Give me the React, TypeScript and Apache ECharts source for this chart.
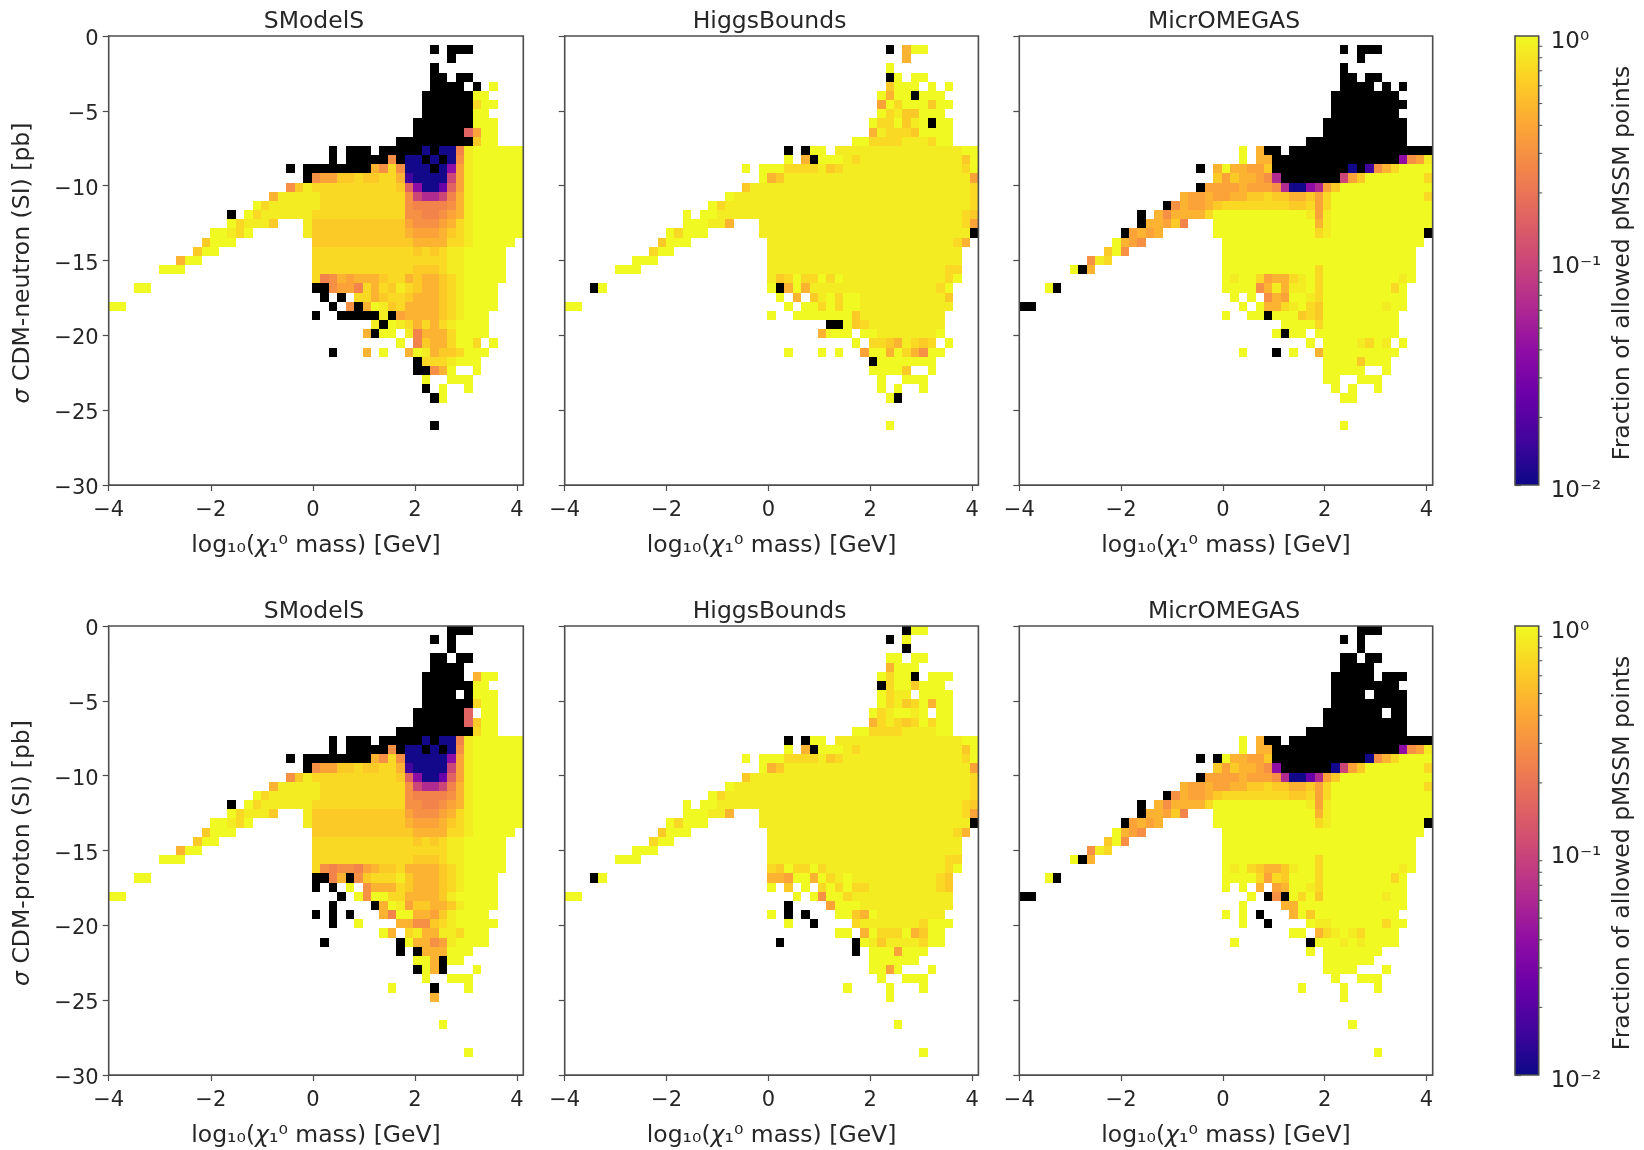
import React, { useEffect, useRef } from "react";
import * as echarts from "echarts";

// Code letters used in the rows below -> fraction of allowed points (0 = black cell).
const LEVELS: Record<string, number> = {
  k: 1, j: 0.871, i: 0.708, h: 0.6, g: 0.46, f: 0.38, e: 0.295, d: 0.251,
  c: 0.158, b: 0.1, a: 0.063, z: 0.04, y: 0.025, x: 0.016, w: 0.0105, "#": 0,
};
const BIN_COUNT = 49;
const X_MIN = -4;
const X_MAX = 4.1224;
const Y_MIN = -30;
const Y_MAX = 0;
const X_TICKS = [-4, -2, 0, 2, 4];
const MINOR_TICKS = [0.02, 0.03, 0.04, 0.05, 0.06, 0.07, 0.08, 0.09, 0.2, 0.3, 0.4, 0.5, 0.6, 0.7, 0.8, 0.9];
const PANEL_TITLES = ["SModelS", "HiggsBounds", "MicrOMEGAS"];
const Y_TITLES = ["CDM-neutron (SI) [pb]", "CDM-proton (SI) [pb]"];
const X_TITLE = "log₁₀({i|χ}₁⁰ mass) [GeV]";
const CB_TITLE = "Fraction of allowed pMSSM points";
const PLASMA = ["#0d0887", "#41049d", "#6a00a8", "#8f0da4", "#b12a90", "#cc4778", "#e16462", "#f2844b", "#fca636", "#fcce25", "#f0f921"];

// Rows run top (y = 0) to bottom. "s:abc" puts codes from column s; "a-b:c" fills columns a..b.
const SMODELS_ROWS_12_13 = [
  "26:# 28:### 32-36:# 37:w 38:# 39:ww 41:d 42:j 43-48:k",
  "26:# 28-32:# 33:e 34:# 35:ww 37:# 38:w 39:# 40:w 41:e 42:j 43-48:k",
];
const SMODELS_ROWS_15_25 = [
  "23:# 24:eff 27:hhihhii 34:g 35:x 36-39:w 40:b 41:f 42:j 43-48:k",
  "21:eh 23:j 24-33:i 34:h 35:cz 37:ww 39:y 40:c 41:f 42:j 43-48:k",
  "19:g 20-24:j 25-34:i 35:eb 37:aa 39:b 40:d 41:g 42:j 43-48:k",
  "17:ki 19-24:j 25-34:i 35:e 36-39:d 40:e 41:g 42:j 43-48:k",
  "14:# 16:ki 18-23:j 24-34:i 35:e 36:e 37:d 38:d 39:e 40:f 41:g 42:j 43-48:k",
  "14:kijjjh 23:j 24-34:h 35:f 36-38:e 39:f 40:g 41:i 42:j 43-48:k",
  "12:kkjik 23:j 24-34:h 35:g 36-38:f 39:g 40:h 41:i 42:j 43-48:k",
  "11:hkkk 24-34:h 35:hgggg 40:ii 42:j 43-47:k",
  "10:hkk 24-34:i 35:ihihi 40:jj 42-46:k",
  "8:gkk 24-39:i 40:jj 42-46:k",
  "6:kkk 24-35:i 36-38:h 39:i 40:jj 42-46:k",
];
const SMODELS_NEUTRON = [
  "",
  "38:# 40:###",
  "40:#",
  "38:#",
  "38:## 41:##",
  "38:#### 43:# 45:k",
  "37-42:# 43:kk",
  "37-42:# 43:ikk",
  "37-42:# 43:kk",
  "36-42:# 43:kkk",
  "36-41:# 42:cf 44:kk",
  "34-42:# 43:hkk",
  ...SMODELS_ROWS_12_13,
  "21:# 23-30:# 31:ge 33:i 34:e 35:www 38:# 39:w 40:z 41:f 42:j 43-48:k",
  ...SMODELS_ROWS_15_25,
  "24:idegfgggh 33:ii 35:ghgghij 42-46:k",
  "3:kk 24:## 26:effd 30:igihji 36:hgghij 42-45:k",
  "25:# 27:# 29:iig 32:hii 35:hggghij 42-45:k",
  "0:kk 26:# 28:e 29:# 30:g 31:kj 33:hi 35:gggghij 42-45:k",
  "24:# 27-31:# 32:j 33:# 34:f 35:ggggh 40:ij 42-44:k",
  "31:j 32:# 33:kj 35:igigi 40:j 41-44:k",
  "30:g 31:# 32:kk 35:jdggg 40:i 41-44:k",
  "34:k 36:dhgg 40:i 41:kk 43:i 45:k",
  "26:# 30:g 32:k 35:g 36:kj 38:ghhi 42-44:k",
  "36:# 37:iiijkkk",
  "36:## 38:eg 40:k 43:k",
  "37:k 40:kkk",
  "37:# 39:k 42:k",
  "38:# 39:k",
  "",
  "",
  "38:#",
];
const SMODELS_PROTON = [
  "40:###",
  "38:# 40:#",
  "40:#",
  "38:## 41:##",
  "38-41:#",
  "37-41:# 43:gkk",
  "37-42:# 43:kk",
  "37-40:# 42:# 43:kkk",
  "37-42:# 43:ikk",
  "36-41:# 42:c 44:kk",
  "36-41:# 42:c 43:hkk",
  "34-42:# 43:ikk",
  ...SMODELS_ROWS_12_13,
  "21:# 23-30:# 31:ge 33:i 34:e 35-39:w 40:z 41:f 42:j 43-48:k",
  ...SMODELS_ROWS_15_25,
  "24:iedeedfghhi 35:gggghij 42-46:k",
  "3:kk 24:## 26:dg 28:# 29:ehiiij 35:hggghij 42-45:k",
  "24:# 26:# 28:k 30:eggg 34:i 35:hggghij 42-45:k",
  "0:kk 27:# 29:k 30:e 31:kk 33:ii 35:ggggh 40:jk 42-45:k",
  "26:# 31:# 32:gkj 35:f 36:hhgg 40:hj 42-45:k",
  "24:# 26:# 28:# 32:gdkk 36:ggf 39:hj 41-44:k",
  "26:# 29:k 34:gg 36:ee 38:hi 40:j 41-45:k",
  "32:kg 35:ijggjji 42-44:k",
  "25:# 34:# 35:kggef 40:j 41-44:k",
  "34:# 36:# 37:ggg 40-42:k",
  "36:kk 38:g 39:# 40:kk",
  "36:# 37:kg 39:# 43:k",
  "37:k 40:kkk",
  "33:k 38:# 42:k",
  "38:g",
  "",
  "",
  "39:k",
  "",
  "",
  "42:k",
];
const HIGGS_ROWS_12_25 = [
  "26:# 28:# 29:kk 32-46:j 47:kk",
  "26:k 28:g 29:# 30:kkk 33:ji 35-46:j 47:hk",
  "21:k 23:kkk 26:iiii 30:j 31:hi 33-46:j 47:ik",
  "23:kgh 26-47:j 48:f",
  "21:h 22-47:j 48:i",
  "19:k 20-47:j 48:i",
  "17:ki 19-47:j 48:i",
  "14:k 16:kk 18-46:j 47:i 48:h",
  "14:kkkjj 19:g 23-46:j 47:i 48:f",
  "12:kikkk 23-47:j 48:#",
  "11:hkkk 24-45:j 46:i 47:g",
  "10:ikk 24-46:j",
  "8:kkk 24-46:j",
  "6:kkk 24-44:j 45:ii",
];
const HIGGS_NEUTRON = [
  "",
  "38:# 40:gkk",
  "40:g",
  "38:k",
  "38:# 39:k 41:kk",
  "38:h 39:kkk 43:k 45:k",
  "37:kg 39:kk 41:# 42:kkk",
  "37:f 38:k 39:i 40:kkk 43:h 44:kk",
  "37:kijhhkkk",
  "36:kiikhjk 43:# 44:kk",
  "36:gjiiihkkkk",
  "34:kkiiiijjjikk",
  ...HIGGS_ROWS_12_25,
  "24:jhikiikik 33-44:j 45:ik",
  "3:#k 24:k 25:# 26:gkg 29-43:j 44:ik",
  "25:k 27:g 29:hjkikk 35-44:j 45:h",
  "0:kk 26:k 28:kk 30:ikikk 35-45:j",
  "24:k 27-33:k 34:h 35-44:j",
  "31:## 33:kh 35:i 36-44:j",
  "30:g 31:kkk 35:kk 37-43:j 44:k",
  "34:k 36:iihgjihi 45:k",
  "26:k 30:k 32:k 35:f 36:kk 38:gkige 43:kk",
  "36:# 37-43:k",
  "36-39:k 40:h 43:k",
  "37:k 40:kkk",
  "37:k 39:k 42:k",
  "38:k 39:#",
  "",
  "",
  "38:k",
];
const HIGGS_PROTON = [
  "40:# 41:kk",
  "38:# 40:k",
  "40:#",
  "38:kk 41:kk",
  "38:g 39-41:k",
  "37:ki 39:kk 41:# 43:kkk",
  "37:# 38:ikk 41:h 42:kkk",
  "37:kijj 42:kkkk",
  "37:kijhik 43:gkk",
  "36:kijkkjk 44:kk",
  "36:gijihik 43:ikk",
  "34:kkiiiijjjjkk",
  ...HIGGS_ROWS_12_25,
  "24:ihkiikij 32-44:j 45:ik",
  "3:#k 24:ggf 27:kk 29:g 30:kijk 34-43:j 44:ih",
  "24:k 26:h 28:k 30:ikikii 36-43:j 44:ih",
  "0:kk 27:k 29:k 30:e 31:kk 33:ij 35-45:j",
  "26:# 31:f 32-34:k 35-45:j",
  "24:k 26:# 28:# 32:kkhg 36:k 37-44:j",
  "26:k 29:# 34:i 35-41:j 42:i 43-45:k",
  "32:kk 35:gkiiikgh 43:kk",
  "25:# 34:# 35:kjhj 39-41:j 42:i 43:kk",
  "34:# 36-38:k 39:f 40-42:k",
  "36-41:k",
  "36:kkfk 43:k",
  "37:k 40:kkk",
  "33:k 38:k 42:k",
  "38:k",
  "",
  "",
  "39:k",
  "",
  "",
  "42:k",
];
const MICRO_ROWS_12_13 = [
  "26:k 28:g 29:## 32-48:#",
  "26:k 28:gg 30-44:# 45:z 46:efj",
];
const MICRO_ROWS_17_25 = [
  "19:gffgffgghhihhgghf 36:i 37-47:k 48:i",
  "17:# 18:egffghi 25-31:i 32:hhi 35:f 36:i 37-48:k",
  "14:# 16:geggggi 23-33:k 34:j 35:f 36:j 37-48:k",
  "14:# 15:ggfhd 23-34:k 35:g 36:j 37-48:k",
  "12:# 13:fgfg 23-34:k 35:i 36:j 37-47:k 48:#",
  "11:kgfe 24-47:k",
  "10:hke 24-46:k",
  "8:eji 24-46:k",
  "6:k 7:# 8:g 24-34:k 35:i 36-46:k",
];
const MICRO_NEUTRON = [
  "",
  "38:# 40:###",
  "40:#",
  "38:#",
  "38:## 41:##",
  "38-41:# 43:# 45:#",
  "37-44:#",
  "37-45:#",
  "37-44:#",
  "36-45:#",
  "36-45:#",
  "34-45:#",
  ...MICRO_ROWS_12_13,
  "21:# 23:gkggff 29:h 30-38:# 39:w 40:# 41:x 42:egi 45-48:k",
  "23:hfhggfe 30:a 31-37:# 38:bfh 41-47:k 48:i",
  "21:# 22:ffffgff 29:f 30:e 31:a 32:ww 34:z 35:a 36:f 37:h 38-48:k",
  ...MICRO_ROWS_17_25,
  "24:kjkkifgg 32:ijk 35:i 36-44:k 45:jk",
  "3:k 4:# 24-27:k 28:eg 30:jg 32:jj 34:k 35:i 36-43:k 44:ik",
  "25:k 27:k 29:egf 32:kkj 35:i 36-45:k",
  "0:## 26:k 28:kggijki 35:h 36-42:k 43:j 44:kk",
  "24:k 27:kk 29:# 30:kkk 33:hih 36-44:k",
  "31-34:k 35:i 36-44:k",
  "30:k 31:# 32:kk 35-44:k",
  "34:k 36-39:k 40:jik 43:j 45:k",
  "26:k 30:# 32:k 35:g 36-44:k",
  "36-39:k 40:h 41-43:k",
  "36-40:k 43:k",
  "36:kk 40:kkk",
  "37:k 39:k 42:k",
  "38:kk",
  "",
  "",
  "38:k",
];
const MICRO_PROTON = [
  "40:###",
  "38:# 40:#",
  "40:#",
  "38:## 41:##",
  "38-41:#",
  "37-41:# 43-45:#",
  "37-44:#",
  "37-40:# 42-45:#",
  "37-45:#",
  "36-42:# 44:##",
  "36-45:#",
  "34-45:#",
  ...MICRO_ROWS_12_13,
  "21:# 23:# 24:kggff 29:h 30-40:# 41:w 42:egi 45-48:k",
  "23:hfhggfe 30:z 31-36:# 37:w 38:bfh 41-47:k 48:i",
  "21:# 22:ffffgff 29:f 30:e 31:a 32:ww 34:y 35:a 36:f 37:h 38-48:k",
  ...MICRO_ROWS_17_25,
  "24:kjkihggh 32:jkk 35:i 36-44:k 45:jk",
  "3:k 4:# 24-27:k 28:i 29:f 30:ih 32-34:k 35:i 36-43:k 44:ik",
  "24:k 26:k 28:g 30:fgkkj 35:i 36-45:k",
  "0:## 27:k 29:# 30:e 31:# 32:kik 35:h 36-42:k 43:j 44:kk",
  "26:k 31:gg 33:kk 35-45:k",
  "24:k 26:k 28:# 32:gkh 35-44:k",
  "26:k 29:# 34:kjj 37-42:k 43:i 44:kk",
  "32:kk 35:gijkji 41-44:k",
  "25:k 34:# 35-37:k 38:j 39:k 40:j 41-44:k",
  "34:k 36-42:k",
  "36-41:k",
  "36-39:k 43:k",
  "37:k 40:kkk",
  "33:k 38:k 42:k",
  "38:k",
  "",
  "",
  "39:k",
  "",
  "",
  "42:k",
];
const PANELS = [SMODELS_NEUTRON, HIGGS_NEUTRON, MICRO_NEUTRON, SMODELS_PROTON, HIGGS_PROTON, MICRO_PROTON];

const FONT = "DejaVu Sans";
const TEXT = "#262626";
const SPINE = "#4d4d4d";
const FS = 21;
const NAME_FS = 23.5;
const TOPS = [36, 626];
const PLOT_H = 449;
const LEFTS = [108.7, 564.7, 1019.3];
const WIDTHS = [414.6, 413.7, 413.4];
const CB_LEFT = 1515;
const CB_W = 23.7;

function parseRows(rows: string[]) {
  const bw = (X_MAX - X_MIN) / BIN_COUNT;
  const bh = (Y_MAX - Y_MIN) / BIN_COUNT;
  const out: number[][] = [];
  rows.forEach((spec, r) => {
    if (!spec) return;
    spec.split(" ").forEach((tok) => {
      const [pos, codes] = tok.split(":");
      const put = (c: number, code: string) =>
        out.push([X_MIN + c * bw, Y_MAX - r * bh, X_MIN + (c + 1) * bw, Y_MAX - (r + 1) * bh, LEVELS[code]]);
      if (pos.includes("-")) {
        const [a, b] = pos.split("-").map(Number);
        for (let c = a; c <= b; c++) put(c, codes);
      } else {
        [...codes].forEach((code, i) => put(Number(pos) + i, code));
      }
    });
  });
  return out;
}

function hexToRgb(h: string) {
  return [1, 3, 5].map((i) => parseInt(h.slice(i, i + 2), 16));
}
function plasma(v: number) {
  if (v <= 0) return "#000000";
  const t = Math.min(1, Math.max(0, (Math.log10(v) + 2) / 2)) * (PLASMA.length - 1);
  const i = Math.min(PLASMA.length - 2, Math.floor(t));
  const a = hexToRgb(PLASMA[i]);
  const b = hexToRgb(PLASMA[i + 1]);
  const f = t - i;
  return `rgb(${a.map((x, k) => Math.round(x + (b[k] - x) * f)).join(",")})`;
}

const renderCell = (_: any, api: any) => {
  const p0 = api.coord([api.value(0), api.value(1)]);
  const p1 = api.coord([api.value(2), api.value(3)]);
  const x = Math.round(p0[0]);
  const y = Math.round(p0[1]);
  return {
    type: "rect",
    shape: { x, y, width: Math.round(p1[0]) - x, height: Math.round(p1[1]) - y },
    style: { fill: plasma(api.value(4)) },
  };
};

const tickLabel = (v: number) => String(v).replace("-", "−");
const SUPER: Record<string, string> = { "0": "10⁰", "-1": "10⁻¹", "-2": "10⁻²" };

function buildOption() {
  const grid: any[] = [];
  const xAxis: any[] = [];
  const yAxis: any[] = [];
  const series: any[] = [];
  const graphic: any[] = [];
  const axisLine = { show: true, onZero: false, lineStyle: { color: SPINE, width: 1 } };
  const axisTick = { show: true, length: 6, lineStyle: { color: SPINE, width: 1.2 } };
  const italic = { i: { fontStyle: "italic", fontFamily: FONT, fontSize: NAME_FS, color: TEXT } };
  const frame = (x: number, y: number, w: number, h: number) =>
    graphic.push({ type: "rect", z: 100, silent: true, shape: { x, y, width: w, height: h }, style: { fill: "none", stroke: SPINE, lineWidth: 1.6 } });

  PANELS.forEach((rows, i) => {
    const col = i % 3;
    const row = Math.floor(i / 3);
    grid.push({ left: LEFTS[col], top: TOPS[row], width: WIDTHS[col], height: PLOT_H, containLabel: false });
    xAxis.push({
      type: "value", gridIndex: i, min: X_MIN, max: X_MAX, splitLine: { show: false },
      axisLine, axisTick: { ...axisTick, customValues: X_TICKS },
      axisLabel: { customValues: X_TICKS, formatter: tickLabel, color: TEXT, fontFamily: FONT, fontSize: FS, margin: 13 },
      name: X_TITLE, nameLocation: "middle", nameGap: 47,
      nameTextStyle: { color: TEXT, fontFamily: FONT, fontSize: NAME_FS, rich: italic },
    });
    yAxis.push({
      type: "value", gridIndex: i, min: Y_MIN, max: Y_MAX, interval: 5, splitLine: { show: false },
      axisLine, axisTick,
      axisLabel: {
        show: col === 0, formatter: (v: number) => `{a|${tickLabel(v)}}`, margin: 10,
        rich: { a: { color: TEXT, fontFamily: FONT, fontSize: FS, padding: [4, 0, 0, 0] } },
      },
      ...(col === 0
        ? {
            name: `{i|σ} ${Y_TITLES[row]}`, nameLocation: "middle", nameGap: 76, nameRotate: 90,
            nameTextStyle: { color: TEXT, fontFamily: FONT, fontSize: NAME_FS, padding: [0, 5, 0, 0], rich: italic },
          }
        : {}),
    });
    series.push({
      type: "custom", xAxisIndex: i, yAxisIndex: i, renderItem: renderCell, silent: true, clip: true,
      encode: { x: [0, 2], y: [1, 3] }, data: parseRows(rows), progressive: 0, animation: false,
    });
    graphic.push({
      type: "text", z: 100, silent: true, x: LEFTS[col] + WIDTHS[col] / 2 - 2, y: TOPS[row] - 16,
      style: { text: PANEL_TITLES[col], fill: TEXT, font: `${NAME_FS}px "${FONT}"`, textAlign: "center", textVerticalAlign: "middle" },
    });
    frame(LEFTS[col], TOPS[row], WIDTHS[col], PLOT_H);
  });

  TOPS.forEach((top, k) => {
    const idx = PANELS.length + k;
    grid.push({ left: CB_LEFT, top, width: CB_W, height: PLOT_H });
    xAxis.push({ type: "value", gridIndex: idx, min: 0, max: 1, show: false });
    yAxis.push({
      type: "log", logBase: 10, gridIndex: idx, min: 0.01, max: 1, position: "right", splitLine: { show: false },
      axisLine: { show: true, lineStyle: { color: SPINE, width: 1 } },
      axisTick: { show: true, length: 6, lineStyle: { color: SPINE, width: 1.2 } },
      minorTick: { show: false },
      axisLabel: {
        margin: 12,
        rich: { a: { color: TEXT, fontFamily: FONT, fontSize: FS + 2, padding: [8, 0, 0, 0] } },
        formatter: (v: number) => `{a|${SUPER[String(Math.round(Math.log10(v)))] ?? ""}}`,
      },
      name: CB_TITLE, nameLocation: "middle", nameGap: 70, nameRotate: 90,
      nameTextStyle: { color: TEXT, fontFamily: FONT, fontSize: NAME_FS, padding: [0, 5, 0, 0] },
    });
    series.push({
      type: "custom", xAxisIndex: idx, yAxisIndex: idx, silent: true, clip: false, data: [[0, 1, 1, 0.01]],
      encode: { x: [0, 2], y: [1, 3] },
      renderItem: (_: any, api: any) => {
        const a = api.coord([api.value(0), api.value(1)]);
        const b = api.coord([api.value(2), api.value(3)]);
        return {
          type: "rect",
          shape: { x: a[0], y: a[1], width: b[0] - a[0], height: b[1] - a[1] },
          style: {
            fill: new echarts.graphic.LinearGradient(0, 1, 0, 0,
              PLASMA.map((color, n) => ({ offset: n / (PLASMA.length - 1), color }))),
          },
        };
      },
    });
    series.push({
      type: "custom", xAxisIndex: idx, yAxisIndex: idx, silent: true, clip: false,
      data: MINOR_TICKS.map((v) => [1, v]), encode: { x: 0, y: 1 },
      renderItem: (_: any, api: any) => {
        const a = api.coord([api.value(0), api.value(1)]);
        return {
          type: "line",
          shape: { x1: a[0], y1: a[1], x2: a[0] + 3.5, y2: a[1] },
          style: { stroke: SPINE, lineWidth: 1 },
        };
      },
    });
    frame(CB_LEFT, top, CB_W, PLOT_H);
  });

  return { animation: false, backgroundColor: "#ffffff", grid, xAxis, yAxis, series, graphic: { elements: graphic } };
}

export default function App() {
  const ref = useRef<HTMLDivElement>(null);
  useEffect(() => {
    const chart = echarts.init(ref.current!, undefined, { renderer: "svg" });
    chart.setOption(buildOption());
    return () => chart.dispose();
  }, []);
  return <div ref={ref} style={{ position: "fixed", left: 0, top: 0, width: 1644, height: 1150, filter: "blur(0.5px)" }} />;
}
